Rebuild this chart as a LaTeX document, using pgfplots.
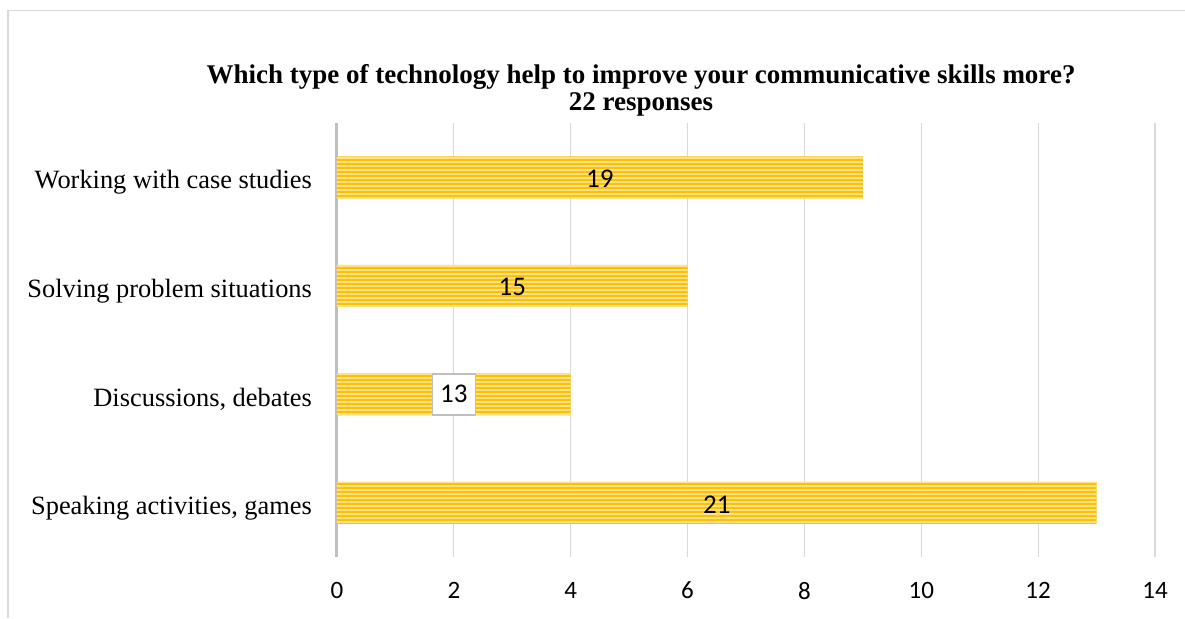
\documentclass[border=0pt]{standalone}
\usepackage{pgfplots}
\pgfplotsset{compat=1.18}
\usetikzlibrary{patterns.meta}
\usepackage{fontspec}
\setmainfont{Liberation Serif}
\newfontfamily\calibri{Carlito}
\definecolor{bargold}{HTML}{FFC000}
\definecolor{barlight}{HTML}{FFE28A}
\definecolor{gridgray}{HTML}{D9D9D9}
\definecolor{axisgray}{HTML}{BFBFBF}

\pgfplotstableread{
pos v lab
0 13 21
1 4 13
2 6 15
3 9 19
}\bars

\begin{document}
\begin{tikzpicture}
\useasboundingbox (0,0) rectangle (592.5pt,309pt);
% outer chart frame (only top and left edges are inside the picture)
\draw[gridgray, line width=0.8pt] (4pt,0) -- (4pt,303.75pt) -- (592.5pt,303.75pt);
\node[font=\fontsize{13.5}{13.5}\selectfont\bfseries, align=center] at (320.5pt,264pt)
  {Which type of technology help to improve your communicative skills more?\\22 responses};
\begin{axis}[
    at={(168.5pt,30.5pt)}, anchor=south west,
    scale only axis,
    width=409pt, height=217pt,
    xmin=0, xmax=14, ymin=-0.5, ymax=3.5,
    xtick={0,2,...,14},
    ytick={0,1,2,3},
    yticklabels={{Speaking activities, games}, {Discussions, debates}, {Solving problem situations}, {Working with case studies}},
    axis lines*=left,
    x axis line style={draw=none},
    y axis line style={draw=axisgray, line width=1.5pt},
    major tick length=0pt,
    xmajorgrids, grid style={draw=gridgray, line width=0.6pt},
    xticklabel style={font=\fontsize{12.5}{14}\selectfont\calibri, yshift=-9pt},
    yticklabel style={font=\fontsize{13.2}{15}\selectfont, xshift=-9pt, yshift=-2.5pt},
    /pgf/number format/assume math mode=true,
    clip=false,
]
\addplot[xbar, bar width=21pt, draw=none, fill=bargold,
  postaction={pattern={Lines[angle=0,distance=2pt,line width=0.7pt]}, pattern color=barlight}]
  table[x=v, y=pos] {\bars};
\addplot[only marks, mark=none, nodes near coords, point meta=explicit symbolic,
  every node near coord/.append style={anchor=center, yshift=-0.8pt, font=\fontsize{13.5}{14}\selectfont\calibri}]
  table[x expr=\thisrow{v}/2, y=pos, meta=lab] {
pos v lab
0 13 21
2 6 15
3 9 19
};
\addplot[only marks, mark=none, nodes near coords, point meta=explicit symbolic,
  every node near coord/.append style={anchor=center, font=\fontsize{13.5}{14}\selectfont\calibri,
    fill=white, draw=axisgray, line width=0.8pt, inner sep=2pt, minimum height=20.5pt, minimum width=21.5pt}]
  table[x expr=\thisrow{v}/2, y=pos, meta=lab] {
pos v lab
1 4 13
};
\end{axis}
\end{tikzpicture}
\end{document}
